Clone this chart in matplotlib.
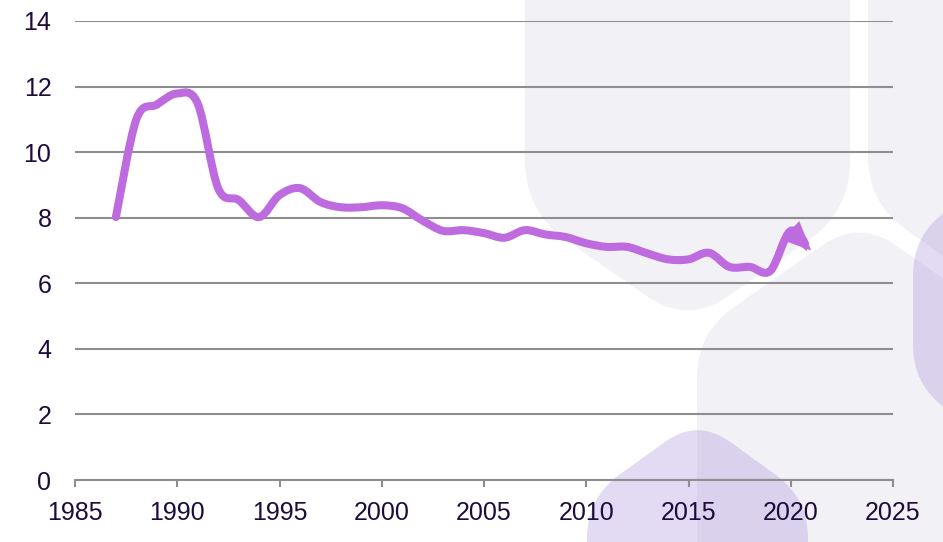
import numpy as np
import matplotlib.pyplot as plt
from matplotlib.path import Path
from matplotlib.patches import PathPatch, FancyArrowPatch

plt.rcParams['font.family'] = ['Liberation Sans', 'DejaVu Sans']

# data
years = list(range(1987, 2022))
values = [8.02, 11.0, 11.45, 11.79, 11.48, 8.9, 8.54, 8.02, 8.69, 8.9,
          8.48, 8.32, 8.32, 8.38, 8.29, 7.91, 7.6, 7.62, 7.53, 7.39,
          7.62, 7.49, 7.41, 7.22, 7.11, 7.11, 6.91, 6.73, 6.73, 6.93,
          6.5, 6.5, 6.38, 7.6, 7.0]
x_ticks = [1985, 1990, 1995, 2000, 2005, 2010, 2015, 2020, 2025]
y_ticks = [0, 2, 4, 6, 8, 10, 12, 14]

LINE = '#bd6bdf'
GRID = '#8e8e8e'
TEXT = '#1e0b3c'
PALE = '#f2f1f6'
LILAC = '#b5a2e0'


def smooth_path(x, y):
    # excel-style smoothed line: bezier segments through every point
    pts = np.column_stack([x, y]).astype(float)
    n = len(pts)
    verts = [pts[0]]
    codes = [Path.MOVETO]
    for i in range(n - 1):
        p0 = pts[max(i - 1, 0)]
        p1 = pts[i]
        p2 = pts[i + 1]
        p3 = pts[min(i + 2, n - 1)]
        verts += [p1 + (p2 - p0) / 6, p2 - (p3 - p1) / 6, p2]
        codes += [Path.CURVE4] * 3
    return Path(verts, codes)


def hexagon(left, width, y_top, y_bot, slope):
    h = width / 2 * slope
    return [(left, y_top), (left + width / 2, y_top - h), (left + width, y_top),
            (left + width, y_bot), (left + width / 2, y_bot + h), (left, y_bot)]


def rounded(points, d):
    pts = np.array(points, float)
    n = len(pts)
    verts, codes = [], []
    for i in range(n):
        v = pts[i]
        p = pts[i - 1]
        nx = pts[(i + 1) % n]
        a = v + d * (p - v) / np.linalg.norm(p - v)
        b = v + d * (nx - v) / np.linalg.norm(nx - v)
        verts += [a, v, b]
        codes += [Path.LINETO, Path.CURVE3, Path.CURVE3]
    codes[0] = Path.MOVETO
    verts.append(verts[0])
    codes.append(Path.CLOSEPOLY)
    return Path(verts, codes)


fig = plt.figure(figsize=(9.43, 5.42), dpi=100)

# decorative background hexagons (pixel coordinates)
bg = fig.add_axes([0, 0, 1, 1], zorder=0)
bg.set_xlim(0, 943)
bg.set_ylim(542, 0)
bg.axis('off')
for pts, d in [(hexagon(525, 325, -400, 211, 0.7), 50),
               (hexagon(868, 325, -400, 202, 0.72), 45),
               (hexagon(697, 324, 333, 900, 0.7), 45)]:
    bg.add_patch(PathPatch(rounded(pts, d), facecolor=PALE, edgecolor='none'))
for pts, d in [(hexagon(913, 325, 235, 385, 0.72), 40),
               (hexagon(587, 221, 498, 900, 0.72), 40)]:
    bg.add_patch(PathPatch(rounded(pts, d), facecolor=LILAC, alpha=0.38,
                           edgecolor='none'))

ax = fig.add_axes([75 / 943, 1 - 480 / 542, 818 / 943, 459 / 542], zorder=1)
ax.patch.set_alpha(0)
ax.set_xlim(1985, 2025)
ax.set_ylim(0, 14)
ax.set_xticks(x_ticks)
ax.set_yticks(y_ticks)
ax.yaxis.grid(True, color=GRID, lw=1.5)
ax.set_axisbelow(True)
for side in ['top', 'right', 'left']:
    ax.spines[side].set_visible(False)
ax.spines['bottom'].set_color(GRID)
ax.spines['bottom'].set_linewidth(1.5)
ax.tick_params(axis='x', length=5, width=1.5, color=GRID, pad=10,
               labelsize=18, labelcolor=TEXT)
ax.tick_params(axis='y', length=0, pad=17, labelsize=18, labelcolor=TEXT)

arrow = FancyArrowPatch(path=smooth_path(years, values),
                        arrowstyle='-|>,head_length=0.9,head_width=0.4',
                        mutation_scale=12, color=LINE, lw=5.8,
                        capstyle='round', joinstyle='miter', zorder=3)
ax.add_patch(arrow)

fig.savefig('out.png', dpi=100)
